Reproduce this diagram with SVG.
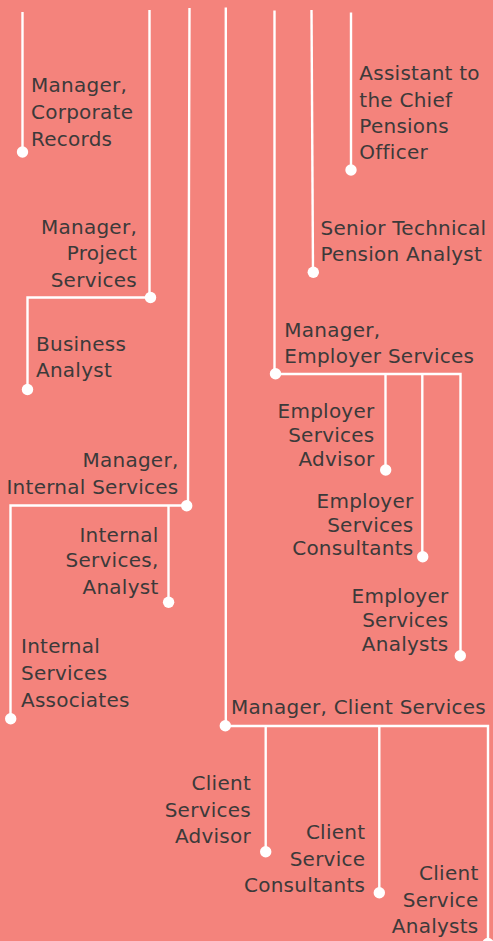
<svg xmlns="http://www.w3.org/2000/svg" width="493" height="941" viewBox="0 0 493 941">
<style>
.bg{fill:#F4837C}
.ln{fill:none;stroke:#FFFFFF;stroke-width:2.4;stroke-linejoin:miter;stroke-linecap:butt}
.dot{fill:#FFFFFF}
text{font-family:"DejaVu Sans","Liberation Sans",sans-serif;font-size:20px;fill:#3C3A3A;letter-spacing:0.25px}
.r{text-anchor:end}
</style>
<rect class="bg" x="0" y="0" width="493" height="941"/>
<g id="connectors">
<path class="ln" d="M22.5 12 V152"/>
<path class="ln" d="M149.5 10 V297.5 H27.5 V389.5"/>
<path class="ln" d="M189.5 8 L188 505.5 H10.5 V718.5"/>
<path class="ln" d="M168.5 505.5 V602"/>
<path class="ln" d="M225.8 7.5 V726 H488 V941"/>
<path class="ln" d="M265.7 726 V851.7"/>
<path class="ln" d="M379.3 726 V892.7"/>
<path class="ln" d="M274.5 10.5 V374 H460.5 V655.7"/>
<path class="ln" d="M385.5 374 V470"/>
<path class="ln" d="M422.3 374 V556.7"/>
<path class="ln" d="M311.5 10 L313 272"/>
<path class="ln" d="M351 12.5 V170"/>
</g>
<g id="manager-corporate-records">
<circle class="dot" cx="22.5" cy="152" r="5.7"/>
<text x="31" y="92">Manager,</text>
<text x="31" y="119">Corporate</text>
<text x="31" y="146">Records</text>
</g>
<g id="manager-project-services">
<circle class="dot" cx="150.5" cy="297.5" r="5.7"/>
<text class="r" x="137" y="233.5">Manager,</text>
<text class="r" x="137" y="260">Project</text>
<text class="r" x="137" y="286.7">Services</text>
</g>
<g id="business-analyst">
<circle class="dot" cx="27.5" cy="389.5" r="5.7"/>
<text x="36" y="350.7">Business</text>
<text x="36" y="376.7">Analyst</text>
</g>
<g id="manager-internal-services">
<circle class="dot" cx="186.7" cy="505.7" r="5.7"/>
<text class="r" x="178.5" y="466.7">Manager,</text>
<text class="r" x="178.5" y="494">Internal Services</text>
</g>
<g id="internal-services-analyst">
<circle class="dot" cx="168.6" cy="602.3" r="5.7"/>
<text class="r" x="158.5" y="541.7">Internal</text>
<text class="r" x="158.5" y="567.3">Services,</text>
<text class="r" x="158.5" y="594.3">Analyst</text>
</g>
<g id="internal-services-associates">
<circle class="dot" cx="10.7" cy="718.7" r="5.7"/>
<text x="21" y="652.7">Internal</text>
<text x="21" y="680">Services</text>
<text x="21" y="706.7">Associates</text>
</g>
<g id="manager-client-services">
<circle class="dot" cx="225.3" cy="725.7" r="5.7"/>
<text x="231" y="714">Manager, Client Services</text>
</g>
<g id="client-services-advisor">
<circle class="dot" cx="265.7" cy="851.7" r="5.7"/>
<text class="r" x="251" y="790">Client</text>
<text class="r" x="251" y="816.7">Services</text>
<text class="r" x="251" y="843.3">Advisor</text>
</g>
<g id="client-service-consultants">
<circle class="dot" cx="379.3" cy="892.7" r="5.7"/>
<text class="r" x="365.3" y="839.3">Client</text>
<text class="r" x="365.3" y="865.7">Service</text>
<text class="r" x="365.3" y="891.7">Consultants</text>
</g>
<g id="client-service-analysts">
<circle class="dot" cx="488" cy="943.5" r="5.7"/>
<text class="r" x="478.5" y="880">Client</text>
<text class="r" x="478.5" y="906.7">Service</text>
<text class="r" x="478.5" y="933.3">Analysts</text>
</g>
<g id="manager-employer-services">
<circle class="dot" cx="275.5" cy="373.8" r="5.7"/>
<text x="284.3" y="336.7">Manager,</text>
<text x="284.3" y="362.7">Employer Services</text>
</g>
<g id="employer-services-advisor">
<circle class="dot" cx="385.7" cy="470" r="5.7"/>
<text class="r" x="374.5" y="417.7">Employer</text>
<text class="r" x="374.5" y="441.7">Services</text>
<text class="r" x="374.5" y="465.7">Advisor</text>
</g>
<g id="employer-services-consultants">
<circle class="dot" cx="422.7" cy="556.7" r="5.7"/>
<text class="r" x="413.5" y="507.7">Employer</text>
<text class="r" x="413.5" y="531.7">Services</text>
<text class="r" x="413.5" y="555">Consultants</text>
</g>
<g id="employer-services-analysts">
<circle class="dot" cx="460.3" cy="655.7" r="5.7"/>
<text class="r" x="448.5" y="602.7">Employer</text>
<text class="r" x="448.5" y="626.7">Services</text>
<text class="r" x="448.5" y="650.7">Analysts</text>
</g>
<g id="senior-technical-pension-analyst">
<circle class="dot" cx="313.3" cy="272.3" r="5.7"/>
<text x="320.5" y="235">Senior Technical</text>
<text x="320.5" y="260.7">Pension Analyst</text>
</g>
<g id="assistant-chief-pensions-officer">
<circle class="dot" cx="351" cy="170" r="5.7"/>
<text x="359.3" y="80">Assistant to</text>
<text x="359.3" y="106.7">the Chief</text>
<text x="359.3" y="133.3">Pensions</text>
<text x="359.3" y="159.3">Officer</text>
</g>
</svg>
